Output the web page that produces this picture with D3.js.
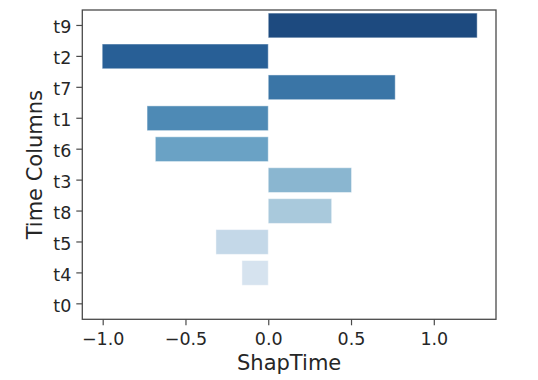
<!DOCTYPE html>
<html>
<head>
<meta charset="utf-8">
<script src="https://cdn.jsdelivr.net/npm/d3@7"></script>
<style>
  body { margin: 0; background: #fff; }
  svg { display: block; }
  text { font-family: "DejaVu Sans", sans-serif; }
</style>
</head>
<body>
<svg id="chart" width="538" height="380"></svg>
<script>
const categories = ["t9", "t2", "t7", "t1", "t6", "t3", "t8", "t5", "t4", "t0"];
const values = [1.262, -1.003, 0.767, -0.732, -0.682, 0.503, 0.383, -0.316, -0.159, 0.0];
const colors = ["#1d4a7f", "#285f96", "#3a75a6", "#4e8ab5", "#6aa2c5", "#8ab6d0", "#a9c9dc", "#c4d8e8", "#d6e3ef", "#e4edf5"];
const xTicks = [-1.0, -0.5, 0.0, 0.5, 1.0];
const xLabel = "ShapTime";
const yLabel = "Time Columns";

(function () {
const svg = d3.select("#chart");
const mLeft = 82.3, mRight = 496, mTop = 10, mBottom = 319.3;
const textColor = "#262626";
const spineColor = "#4a4a4a";

const x = d3.scaleLinear().domain([-1.1232, 1.3757]).range([mLeft, mRight]);
// categorical axis: one unit per category, bars 0.8 of a unit (seaborn)
const y = d3.scaleBand().domain(categories).range([mTop, mBottom]).paddingInner(0.2).paddingOuter(0.1);

// bars
svg.append("g").selectAll("rect")
  .data(categories)
  .join("rect")
  .attr("x", (d, i) => x(Math.min(0, values[i])))
  .attr("width", (d, i) => Math.abs(x(values[i]) - x(0)))
  .attr("y", d => y(d))
  .attr("height", y.bandwidth())
  .attr("fill", (d, i) => colors[i])
  .attr("stroke", "rgba(255,255,255,0.45)")
  .attr("stroke-width", 1);

// x axis
const xAxis = d3.axisBottom(x).tickValues(xTicks).tickSize(6).tickPadding(7).tickSizeOuter(0)
  .tickFormat(d => d3.format(".1f")(d).replace("-", "\u2212"));
const gx = svg.append("g").attr("transform", `translate(0,${mBottom})`).call(xAxis);
gx.select(".domain").remove();
gx.selectAll(".tick line").attr("stroke", spineColor).attr("stroke-width", 1.2);
gx.selectAll(".tick text").attr("fill", textColor).style("font-size", "17.5px");

// y axis
const yAxis = d3.axisLeft(y).tickSize(6).tickPadding(5).tickSizeOuter(0);
const gy = svg.append("g").attr("transform", `translate(${mLeft},0)`).call(yAxis);
gy.select(".domain").remove();
gy.selectAll(".tick line").attr("stroke", spineColor).attr("stroke-width", 1.2);
gy.selectAll(".tick text").attr("fill", textColor).attr("dy", "0.45em").style("font-size", "17.5px");

// frame
svg.append("rect")
  .attr("x", mLeft).attr("y", mTop)
  .attr("width", mRight - mLeft).attr("height", mBottom - mTop)
  .attr("fill", "none").attr("stroke", spineColor).attr("stroke-width", 1.3);

// labels
svg.append("text")
  .attr("x", (mLeft + mRight) / 2).attr("y", 370)
  .attr("text-anchor", "middle").attr("fill", textColor)
  .style("font-size", "21px").text(xLabel);

svg.append("text")
  .attr("transform", `translate(42,${(mTop + mBottom) / 2}) rotate(-90)`)
  .attr("text-anchor", "middle").attr("fill", textColor)
  .style("font-size", "21px").text(yLabel);
})();
</script>
</body>
</html>
